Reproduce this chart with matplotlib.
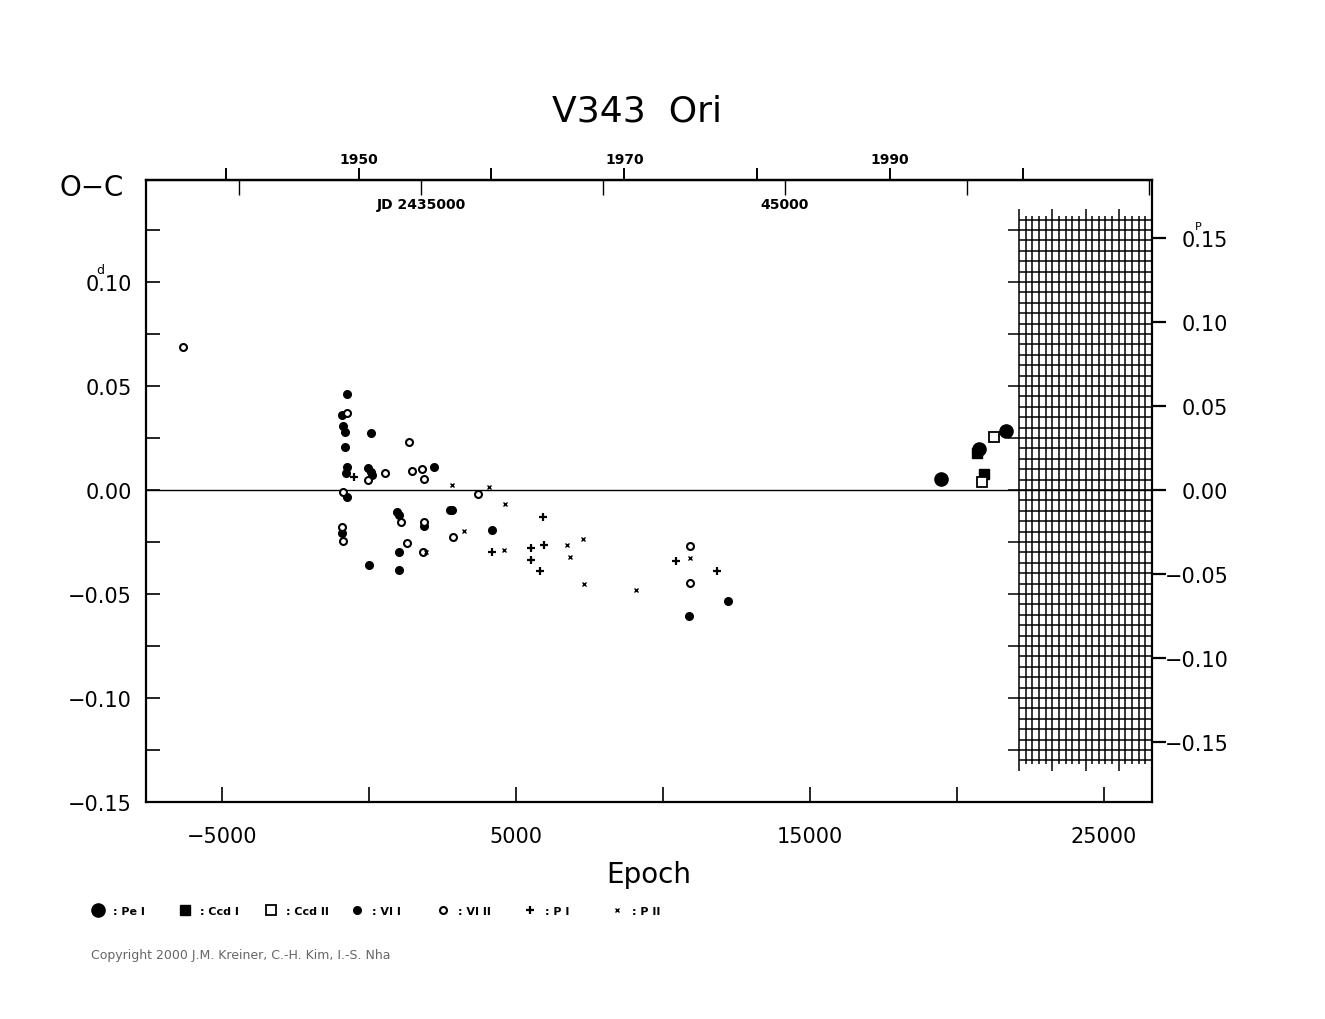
import numpy as np
import matplotlib.pyplot as plt

# ephemeris used for the top axes (epoch -> JD -> year)
P = 0.8081
T0 = 2433571.0

# O-C data: epoch, O-C (days)
pe1_e = [19466, 20748, 21656]
pe1_oc = [0.0053, 0.0199, 0.0282]

ccd1_e = [20691, 20918]
ccd1_oc = [0.0178, 0.0077]

ccd2_e = [20862, 21269]
ccd2_oc = [0.0038, 0.0256]

vi1_e = [-738, -907, -873, -805, 68, -816, -759, -793, -24, 60, 112, 2221,
         -738, 962, 1010, 1881, 2745, 2813, -908, 4194, 1031, -15, 1031,
         12221, 10884]
vi1_oc = [0.0463, 0.0360, 0.0306, 0.0277, 0.0276, 0.0208, 0.0109, 0.0082,
          0.0104, 0.0085, 0.0070, 0.0109, -0.0034, -0.0107, -0.0119, -0.0175,
          -0.0098, -0.0098, -0.0207, -0.0192, -0.0300, -0.0359, -0.0385,
          -0.0532, -0.0606]

vi2_e = [-6337, -759, 1371, 534, -44, 1473, 1813, 1871, -884, 3707, 1078,
         2867, 1303, 1827, -895, 1881, -908, 10908, 10918]
vi2_oc = [0.0686, 0.0370, 0.0229, 0.0080, 0.0047, 0.0093, 0.0100, 0.0054,
          -0.0008, -0.0019, -0.0154, -0.0226, -0.0256, -0.0297, -0.0247,
          -0.0154, -0.0180, -0.0268, -0.0449]

p1_e = [-520, 4173, 5510, 5520, 5918, 5963, 5816, 10442, 11837]
p1_oc = [0.0064, -0.0297, -0.0279, -0.0337, -0.0130, -0.0264, -0.0388,
         -0.0343, -0.0388]

p2_e = [2833, 4068, 4626, 3241, 4582, 1939, 6724, 7289, 6837, 7313, 9082,
        10929]
p2_oc = [0.0023, 0.0013, -0.0067, -0.0196, -0.0288, -0.0297, -0.0266,
         -0.0237, -0.0320, -0.0450, -0.0480, -0.0327]

x_lim = (-7585, 26630)
y_lim = (-0.15, 0.149)
grid_x0 = 22110     # start of the hatched "future" block
grid_top = 0.13

year_ticks = [1940, 1950, 1960, 1970, 1980, 1990, 2000]
year_labels = ['', '1950', '', '1970', '', '1990', '']
jd_ticks = [2430000, 2435000, 2440000, 2445000, 2450000, 2455000]
jd_labels = ['', 'JD 2435000', '', '45000', '', '']


def ep2jd(e):
    return T0 + P * np.asarray(e, dtype=float)


def jd2ep(j):
    return (np.asarray(j, dtype=float) - T0) / P


def ep2yr(e):
    return 2000.0 + (ep2jd(e) - 2451544.5) / 365.25


def yr2ep(y):
    return jd2ep(2451544.5 + (np.asarray(y, dtype=float) - 2000.0) * 365.25)


fig = plt.figure(figsize=(13.25, 10.2), dpi=100)
ax = fig.add_axes([0.1102, 0.2127, 0.7592, 0.6098])

# hatched grid block
gx = np.linspace(grid_x0, x_lim[1], 21)
gy = np.arange(-grid_top, grid_top + 1e-9, 0.005)
ax.hlines(gy, grid_x0, x_lim[1], color='black', lw=1.1, zorder=1)
for i, x in enumerate(gx):
    ext = 0.0053 if i % 5 == 0 else 0.0018
    ax.vlines(x, -grid_top - ext, grid_top + ext, color='black', lw=1.1, zorder=1)
tick_len = 374
ax.hlines(np.arange(-0.125, 0.126, 0.025), grid_x0 - tick_len, grid_x0,
          color='black', lw=1.1, zorder=1)

ax.axhline(0, color='black', lw=1.0, zorder=1)

ax.plot(pe1_e, pe1_oc, 'o', ms=9.5, color='black', zorder=3)
ax.plot(ccd1_e, ccd1_oc, 's', ms=7.5, color='black', zorder=3)
ax.plot(ccd2_e, ccd2_oc, 's', ms=7, mfc='white', mec='black', mew=1.3, zorder=3)
ax.plot(vi1_e, vi1_oc, 'o', ms=5.5, color='black', zorder=3)
ax.plot(vi2_e, vi2_oc, 'o', ms=5, mfc='white', mec='black', mew=1.5, zorder=3)
ax.plot(p1_e, p1_oc, '+', ms=5.5, color='black', mew=1.6, zorder=3)
ax.plot(p2_e, p2_oc, 'x', ms=3.5, color='black', mew=1.0, zorder=3)

ax.set_xlim(*x_lim)
ax.set_ylim(*y_lim)
for s in ax.spines.values():
    s.set_linewidth(1.6)

ax.set_xticks(np.arange(-5000, 25001, 5000))
ax.set_xticklabels(['\u22125000', '', '5000', '', '15000', '', '25000'])
ax.set_yticks(np.arange(-0.15, 0.101, 0.05))
ax.set_yticklabels(['\u22120.15', '\u22120.10', '\u22120.05', '0.00', '0.05', '0.10'])
ax.set_yticks(np.arange(-0.125, 0.13, 0.05), minor=True)
ax.tick_params(axis='x', direction='in', length=11, width=1.2, labelsize=15, pad=17)
ax.tick_params(axis='y', which='both', direction='in', length=10, width=1.2,
               labelsize=15, pad=10, right=False)
ax.set_xlabel('Epoch', fontsize=20, labelpad=10)

# right axis in units of the period
axr = ax.twinx()
axr.set_ylim(y_lim[0] / P, y_lim[1] / P)
axr.set_yticks(np.arange(-0.15, 0.151, 0.05))
axr.set_yticklabels(['\u22120.15', '\u22120.10', '\u22120.05', '0.00',
                     '0.05', '0.10', '0.15'])
axr.tick_params(axis='y', direction='out', length=10, width=1.6,
                labelsize=15, pad=45)
for lab in axr.get_yticklabels():
    lab.set_horizontalalignment('right')
for s in axr.spines.values():
    s.set_visible(False)

# top axes: calendar years (out) and JD (in)
top_yr = ax.secondary_xaxis('top', functions=(ep2yr, yr2ep))
top_yr.set_xticks(year_ticks, year_labels)
top_yr.tick_params(direction='out', length=9, width=1.4, labelsize=10, pad=1)
for lab in top_yr.get_xticklabels():
    lab.set_fontweight('bold')

top_jd = ax.secondary_xaxis('top', functions=(ep2jd, jd2ep))
top_jd.set_xticks(jd_ticks, jd_labels)
top_jd.tick_params(direction='in', length=11, width=1.0, labelsize=10, pad=-22)
for lab in top_jd.get_xticklabels():
    lab.set_fontweight('bold')
top_jd.spines['top'].set_linewidth(1.6)

fig.text(637 / 1325, 1 - 112 / 1020, 'V343  Ori', fontsize=26, ha='center', va='center')
fig.text(60 / 1325, 1 - 188 / 1020, 'O\u2212C', fontsize=20, ha='left', va='center')
fig.text(100 / 1325, 1 - 271 / 1020, 'd', fontsize=9, ha='center', va='center')
fig.text(1198 / 1325, 1 - 227 / 1020, 'P', fontsize=8, ha='center', va='center')

# legend row
leg = fig.add_axes([0, 0, 1, 1])
leg.set_xlim(0, 1325)
leg.set_ylim(1020, 0)
leg.axis('off')
leg_names = [': Pe I', ': Ccd I', ': Ccd II', ': VI I', ': VI II', ': P I', ': P II']
leg_styles = [dict(marker='o', ms=9.5, color='black'),
              dict(marker='s', ms=7.5, color='black'),
              dict(marker='s', ms=7, mfc='white', mec='black', mew=1.3),
              dict(marker='o', ms=5.5, color='black'),
              dict(marker='o', ms=5, mfc='white', mec='black', mew=1.5),
              dict(marker='+', ms=5.5, color='black', mew=1.6),
              dict(marker='x', ms=3.5, color='black', mew=1.0)]
leg_x = [98, 185, 271, 357, 443, 530, 617]
for x, name, st in zip(leg_x, leg_names, leg_styles):
    leg.plot([x], [911], linestyle='none', **st)
    leg.text(x + 15, 912, name, fontsize=8, fontweight='bold', va='center')

fig.text(91 / 1325, 1 - 956 / 1020, 'Copyright 2000 J.M. Kreiner, C.-H. Kim, I.-S. Nha',
         fontsize=9, color='#666666', va='center')

fig.savefig('out.png', dpi=100)
